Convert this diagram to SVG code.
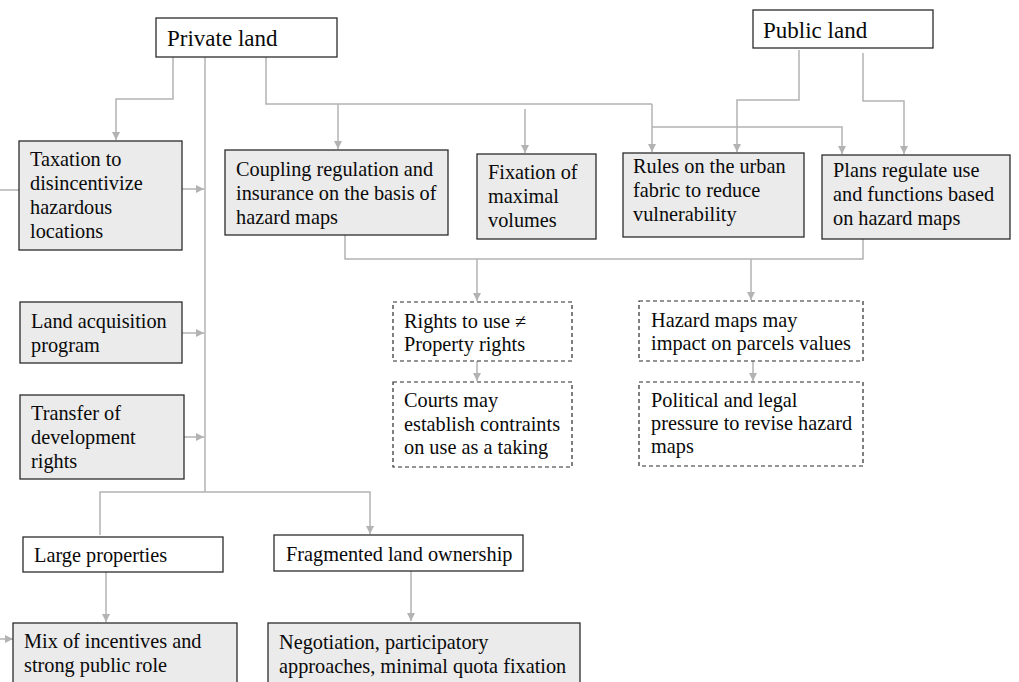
<svg xmlns="http://www.w3.org/2000/svg" width="1019" height="682" viewBox="0 0 1019 682">
<style>
.bx{fill:#ebebeb;stroke:#2b2b2b;stroke-width:1.3}
.wb{fill:#ffffff;stroke:#2b2b2b;stroke-width:1.3}
.db{fill:#ffffff;stroke:#2b2b2b;stroke-width:1.2;stroke-dasharray:4 3}
.t{font-family:"Liberation Serif","Times New Roman",serif;font-size:20.3px;fill:#0a0a0a}
.tt{font-family:"Liberation Serif","Times New Roman",serif;font-size:23px;fill:#0a0a0a}
.c{fill:none;stroke:#b3b3b3;stroke-width:1.5}
.a{fill:none;stroke:#b3b3b3;stroke-width:1.5;marker-end:url(#ah)}
</style>
<defs>
<marker id="ah" markerUnits="userSpaceOnUse" markerWidth="9" markerHeight="9" refX="8" refY="4" orient="auto">
<path d="M0,0 L8,4 L0,8 z" fill="#b3b3b3"/>
</marker>
</defs>
<rect width="1019" height="682" fill="#ffffff"/>
<g id="connectors">
<polyline class="a" points="173,57 173,99 116,99 116,140"/>
<line class="c" x1="205" y1="57" x2="205" y2="487"/>
<polyline class="c" points="266,57 266,104 652,104"/>
<line class="a" x1="338" y1="104" x2="338" y2="149"/>
<line class="a" x1="652" y1="104" x2="652" y2="152"/>
<line class="a" x1="525" y1="109" x2="525" y2="153"/>
<polyline class="a" points="652,127 842,127 842,154"/>
<polyline class="a" points="799,50 799,100 737,100 737,152"/>
<polyline class="a" points="863,53 863,101 904,101 904,154"/>
<line class="c" x1="0" y1="190" x2="19" y2="190"/>
<line class="a" x1="182" y1="189" x2="204" y2="189"/>
<line class="a" x1="182" y1="333" x2="204" y2="333"/>
<line class="a" x1="184" y1="437" x2="204" y2="437"/>
<polyline class="c" points="345,235 345,259 863,259 863,239"/>
<line class="a" x1="477" y1="259" x2="477" y2="301"/>
<line class="a" x1="751" y1="259" x2="751" y2="300"/>
<line class="a" x1="477" y1="361" x2="477" y2="381"/>
<line class="a" x1="753" y1="361" x2="753" y2="381"/>
<polyline class="c" points="205,487 205,492"/>
<polyline class="a" points="100,535 100,492 370,492 370,534"/>
<line class="a" x1="106" y1="572" x2="106" y2="622"/>
<line class="a" x1="411" y1="571" x2="411" y2="621"/>
<line class="a" x1="0" y1="639" x2="13" y2="639"/>
</g>
<g id="private-land"><rect class="wb" x="156" y="18" width="181" height="39"/><text class="tt" x="167" y="46">Private land</text></g>
<g id="public-land"><rect class="wb" x="753" y="10" width="180" height="38"/><text class="tt" x="763" y="38">Public land</text></g>
<g id="taxation"><rect class="bx" x="19" y="141" width="163" height="109"/><text class="t" x="30" y="166">Taxation to</text><text class="t" x="30" y="190">disincentivize</text><text class="t" x="30" y="214">hazardous</text><text class="t" x="30" y="238">locations</text></g>
<g id="coupling"><rect class="bx" x="225" y="150" width="223" height="85"/><text class="t" x="236" y="176">Coupling regulation and</text><text class="t" x="236" y="200">insurance on the basis of</text><text class="t" x="236" y="224">hazard maps</text></g>
<g id="fixation"><rect class="bx" x="477" y="154" width="119" height="85"/><text class="t" x="488" y="179">Fixation of</text><text class="t" x="488" y="203">maximal</text><text class="t" x="488" y="227">volumes</text></g>
<g id="rules"><rect class="bx" x="623" y="153" width="181" height="84"/><text class="t" x="633" y="173">Rules on the urban</text><text class="t" x="633" y="197">fabric to reduce</text><text class="t" x="633" y="221">vulnerability</text></g>
<g id="plans"><rect class="bx" x="822" y="155" width="188" height="84"/><text class="t" x="833" y="177">Plans regulate use</text><text class="t" x="833" y="201">and functions based</text><text class="t" x="833" y="225">on hazard maps</text></g>
<g id="rights"><rect class="db" x="393" y="302" width="179" height="59"/><text class="t" x="404" y="328">Rights to use ≠</text><text class="t" x="404" y="351">Property rights</text></g>
<g id="courts"><rect class="db" x="393" y="382" width="179" height="85"/><text class="t" x="404" y="407">Courts may</text><text class="t" x="404" y="431">establish contraints</text><text class="t" x="404" y="454">on use as a taking</text></g>
<g id="hazard"><rect class="db" x="639" y="301" width="224" height="60"/><text class="t" x="651" y="327">Hazard maps may</text><text class="t" x="651" y="350">impact on parcels values</text></g>
<g id="political"><rect class="db" x="639" y="382" width="224" height="84"/><text class="t" x="651" y="407">Political and legal</text><text class="t" x="651" y="430">pressure to revise hazard</text><text class="t" x="651" y="453">maps</text></g>
<g id="land-acquisition"><rect class="bx" x="20" y="302" width="162" height="61"/><text class="t" x="31" y="328">Land acquisition</text><text class="t" x="31" y="352">program</text></g>
<g id="transfer"><rect class="bx" x="20" y="395" width="164" height="84"/><text class="t" x="31" y="420">Transfer of</text><text class="t" x="31" y="444">development</text><text class="t" x="31" y="468">rights</text></g>
<g id="large-properties"><rect class="wb" x="23" y="537" width="200" height="35"/><text class="t" x="34" y="562">Large properties</text></g>
<g id="fragmented"><rect class="wb" x="274" y="535" width="249" height="36"/><text class="t" x="286" y="561">Fragmented land ownership</text></g>
<g id="mix"><rect class="bx" x="13" y="623" width="224" height="80"/><text class="t" x="24" y="648">Mix of incentives and</text><text class="t" x="24" y="672">strong public role</text></g>
<g id="negotiation"><rect class="bx" x="268" y="623" width="312" height="80"/><text class="t" x="279" y="649">Negotiation, participatory</text><text class="t" x="279" y="673">approaches, minimal quota fixation</text></g>
</svg>
